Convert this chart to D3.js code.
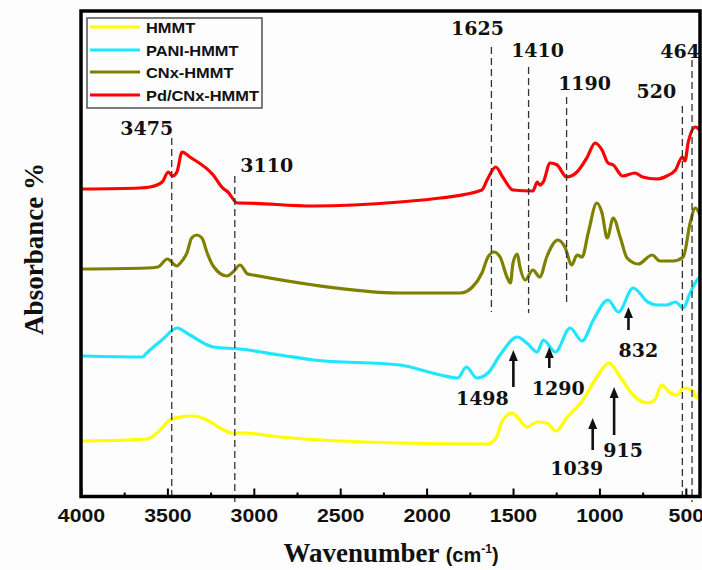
<!DOCTYPE html>
<html>
<head>
<meta charset="utf-8">
<script src="https://cdn.jsdelivr.net/npm/d3@7"></script>
<style>
  html, body { margin: 0; padding: 0; background: #fdfdfd; }
  svg { display: block; }
</style>
</head>
<body>
<svg id="chart" width="702" height="570"></svg>
<script>
// ---- FTIR spectra: [wavenumber (cm-1), absorbance (a.u., stacked)] ----
const seriesNames = ["HMMT", "PANI-HMMT", "CNx-HMMT", "Pd/CNx-HMMT"];

const hmmt = [[3990,11.2],[3620,11.6],[3560,12.8],[3485,15.4],[3425,16.0],[3350,16.2],[3270,15.4],[3195,13.8],[3125,12.8],[3065,12.8],[2850,12.0],[2155,10.8],[1650,10.6],[1595,12.0],[1565,15.0],[1505,16.8],[1470,15.8],[1420,14.0],[1360,15.0],[1305,14.8],[1250,13.2],[1190,15.8],[1095,19.4],[1015,24.0],[945,26.8],[880,24.0],[805,20.4],[720,18.8],[680,19.4],[640,22.4],[590,20.8],[550,20.4],[515,21.8],[465,21.4],[435,19.8],[418,22.0]];

const paniHmmt = [[3990,28.2],[3645,28.0],[3620,28.8],[3525,31.6],[3445,33.8],[3370,32.4],[3235,30.0],[3080,29.6],[2850,28.4],[2655,27.4],[2155,26.4],[1920,24.4],[1820,23.8],[1770,26.0],[1710,23.8],[1645,24.8],[1575,28.4],[1475,32.0],[1420,30.8],[1360,29.0],[1325,31.4],[1255,29.0],[1170,33.8],[1100,31.2],[1035,35.4],[950,39.4],[890,37.0],[805,41.8],[720,39.0],[665,38.4],[610,38.4],[560,39.0],[515,37.8],[475,40.8],[435,43.4],[418,44.0]];

const cnxHmmt = [[3990,45.6],[3620,45.8],[3555,46.0],[3500,47.6],[3445,46.2],[3425,46.8],[3385,49.0],[3360,51.8],[3330,52.4],[3300,51.8],[3270,48.8],[3235,46.2],[3155,44.2],[3120,45.0],[3080,46.4],[3035,44.6],[3005,44.4],[2655,42.4],[2155,40.8],[1805,40.8],[1735,42.0],[1680,44.8],[1645,48.0],[1610,49.0],[1575,48.0],[1535,44.0],[1515,42.8],[1500,46.8],[1475,48.6],[1460,46.0],[1430,43.4],[1385,45.4],[1345,44.0],[1305,48.0],[1240,51.4],[1200,50.0],[1160,46.4],[1130,48.4],[1100,48.0],[1065,52.8],[1015,58.8],[985,56.8],[955,51.8],[920,55.8],[880,52.0],[840,47.8],[775,46.6],[695,48.4],[650,47.2],[575,47.2],[515,48.0],[475,54.8],[445,57.8],[418,56.4]];

const pdCnxHmmt = [[3990,61.6],[3660,61.8],[3600,62.0],[3530,63.0],[3495,65.0],[3470,64.2],[3445,65.0],[3415,69.0],[3370,68.0],[3235,64.4],[3180,61.8],[3150,61.0],[3095,58.8],[3080,58.8],[2655,58.2],[2155,59.0],[1920,59.8],[1680,61.4],[1650,63.4],[1600,66.0],[1560,64.0],[1500,61.4],[1385,61.2],[1360,63.0],[1345,62.4],[1325,63.0],[1285,66.8],[1245,66.4],[1190,64.0],[1130,65.0],[1070,68.0],[1025,70.8],[985,69.4],[950,66.8],[920,66.4],[865,64.2],[795,64.8],[750,64.0],[667,63.6],[610,64.2],[560,65.4],[520,68.0],[505,67.2],[487,70.8],[445,74.0],[418,73.4]];

const xTickValues = [4000, 3500, 3000, 2500, 2000, 1500, 1000, 500];
const xMinorTicks = [3750, 3250, 2750, 2250, 1750, 1250, 750];

// band positions marked with dashed guides and arrows (cm-1)
const bandLines = [3475, 3110, 1625, 1410, 1190, 520, 464];
const bandArrows = [1498, 1290, 832, 1039, 915];

// ---- layout / styling ----
const seriesColors = ["#ffff00", "#1fe6ff", "#7f7f00", "#ff0000"];
const series = [hmmt, paniHmmt, cnxHmmt, pdCnxHmmt];

// dashed guides: [top y, bottom y, label dx, label baseline]
const lineLayout = [
  [138, 497, -25, 135],
  [176, 505,  32, 172],
  [ 47, 312, -14,  35],
  [ 67, 313,   9,  57],
  [ 97, 305,  18,  90],
  [106, 497, -26,  98],
  [ 60, 502, -12,  58]
];
// arrows: [head y, tail y, label dx, label baseline]
const arrowLayout = [
  [350, 387, -31, 405],
  [347, 368,   9, 395],
  [307, 330,  10, 357],
  [418, 450, -16, 475],
  [387, 435,   9, 457]
];

const frame = { left: 81, top: 11, right: 700, bottom: 496.5 };

const svg = d3.select("#chart");
svg.append("rect").attr("width", 702).attr("height", 570).attr("fill", "#fdfdfd");

const x = d3.scaleLinear().domain([4000, 418]).range([frame.left, frame.right]);
const y = d3.scaleLinear().domain([0, 97.4]).range([497, 10]);

// horizontal stretch of text so the glyph shapes keep their proportions
function stretch(sel, k) {
  sel.each(function () {
    const w = this.getComputedTextLength();
    this.setAttribute("textLength", (w * k).toFixed(1));
    this.setAttribute("lengthAdjust", "spacingAndGlyphs");
  });
}

svg.append("clipPath").attr("id", "plotClip")
  .append("rect")
  .attr("x", frame.left).attr("y", frame.top)
  .attr("width", frame.right - frame.left).attr("height", frame.bottom - frame.top);

// ---- spectra ----
const line = d3.line()
  .x(d => x(d[0]))
  .y(d => y(d[1]))
  .curve(d3.curveMonotoneX);

svg.append("g").attr("clip-path", "url(#plotClip)")
  .selectAll("path")
  .data(series)
  .join("path")
  .attr("d", line)
  .attr("fill", "none")
  .attr("stroke", (d, i) => seriesColors[i])
  .attr("stroke-width", 3.2)
  .attr("stroke-linejoin", "round")
  .attr("stroke-linecap", "round");

// ---- dashed band guides ----
const guides = svg.append("g");
bandLines.forEach((wn, i) => {
  const [top, bottom, dx, base] = lineLayout[i];
  guides.append("line")
    .attr("x1", x(wn)).attr("x2", x(wn))
    .attr("y1", top).attr("y2", bottom)
    .attr("stroke", "#333")
    .attr("stroke-width", 1.3)
    .attr("stroke-dasharray", "7,4");
  guides.append("text")
    .attr("x", x(wn) + dx).attr("y", base)
    .attr("text-anchor", "middle")
    .attr("font-family", "'DejaVu Serif', serif")
    .attr("font-weight", "bold")
    .attr("font-size", 19)
    .attr("fill", "#111")
    .text(wn);
});

// ---- arrows ----
const arrows = svg.append("g");
bandArrows.forEach((wn, i) => {
  const [head, tail, dx, base] = arrowLayout[i];
  const ax = x(wn);
  arrows.append("line")
    .attr("x1", ax).attr("x2", ax)
    .attr("y1", tail).attr("y2", head + 8)
    .attr("stroke", "#111")
    .attr("stroke-width", 2.6);
  arrows.append("path")
    .attr("d", `M${ax - 4.5},${head + 11} L${ax},${head} L${ax + 4.5},${head + 11} Z`)
    .attr("fill", "#111");
  arrows.append("text")
    .attr("x", ax + dx).attr("y", base)
    .attr("text-anchor", "middle")
    .attr("font-family", "'DejaVu Serif', serif")
    .attr("font-weight", "bold")
    .attr("font-size", 19)
    .attr("fill", "#111")
    .text(wn);
});

// ---- frame and x axis ----
svg.append("rect")
  .attr("x", frame.left).attr("y", frame.top)
  .attr("width", frame.right - frame.left).attr("height", frame.bottom - frame.top)
  .attr("fill", "none")
  .attr("stroke", "#000")
  .attr("stroke-width", 3.5);

const xAxis = d3.axisBottom(x)
  .tickValues(xTickValues)
  .tickSizeInner(-8)
  .tickSizeOuter(0)
  .tickPadding(16)
  .tickFormat(d3.format("d"));

const gx = svg.append("g")
  .attr("transform", `translate(0,${frame.bottom})`)
  .call(xAxis);
gx.select(".domain").remove();
gx.selectAll(".tick line").attr("stroke", "#000").attr("stroke-width", 2);
gx.selectAll(".tick text")
  .attr("y", 25.5).attr("dy", null)
  .attr("font-family", "'Liberation Sans', Arial, sans-serif")
  .attr("font-weight", "bold")
  .attr("font-size", 19)
  .attr("fill", "#111")
  .call(stretch, 1.12);

const gm = svg.append("g")
  .attr("transform", `translate(0,${frame.bottom})`)
  .call(d3.axisBottom(x).tickValues(xMinorTicks).tickSizeInner(-4).tickSizeOuter(0).tickFormat(""));
gm.select(".domain").remove();
gm.selectAll(".tick line").attr("stroke", "#000").attr("stroke-width", 2);

// ---- axis titles ----
const xt = svg.append("text")
  .attr("x", 391).attr("y", 562)
  .attr("text-anchor", "middle")
  .attr("fill", "#111");
xt.append("tspan")
  .attr("font-family", "'Liberation Serif', 'Times New Roman', serif")
  .attr("font-weight", "bold")
  .attr("font-size", 27)
  .text("Wavenumber ");
xt.append("tspan")
  .attr("font-family", "'Liberation Sans', Arial, sans-serif")
  .attr("font-weight", "bold")
  .attr("font-size", 20)
  .text("(cm");
xt.append("tspan")
  .attr("font-family", "'Liberation Sans', Arial, sans-serif")
  .attr("font-weight", "bold")
  .attr("font-size", 12)
  .attr("dy", -9)
  .text("-1");
xt.append("tspan")
  .attr("font-family", "'Liberation Sans', Arial, sans-serif")
  .attr("font-weight", "bold")
  .attr("font-size", 20)
  .attr("dy", 9)
  .text(")");

svg.append("text")
  .attr("transform", "translate(43,249) rotate(-90)")
  .attr("text-anchor", "middle")
  .attr("font-family", "'Liberation Serif', 'Times New Roman', serif")
  .attr("font-weight", "bold")
  .attr("font-size", 27)
  .attr("fill", "#111")
  .text("Absorbance %");

// ---- legend ----
const legend = svg.append("g");
legend.append("rect")
  .attr("x", 87).attr("y", 18)
  .attr("width", 175).attr("height", 90)
  .attr("fill", "#fdfdfd")
  .attr("stroke", "#444")
  .attr("stroke-width", 1.4);
const rowY = [27, 50, 72, 95];
seriesNames.forEach((name, i) => {
  legend.append("line")
    .attr("x1", 90).attr("x2", 140)
    .attr("y1", rowY[i]).attr("y2", rowY[i])
    .attr("stroke", seriesColors[i])
    .attr("stroke-width", 3);
  legend.append("text")
    .attr("x", 146).attr("y", rowY[i] + 5.5)
    .attr("font-family", "'Liberation Sans', Arial, sans-serif")
    .attr("font-weight", "bold")
    .attr("font-size", 14.5)
    .attr("fill", "#111")
    .text(name)
    .call(stretch, 1.13);
});
</script>
</body>
</html>
